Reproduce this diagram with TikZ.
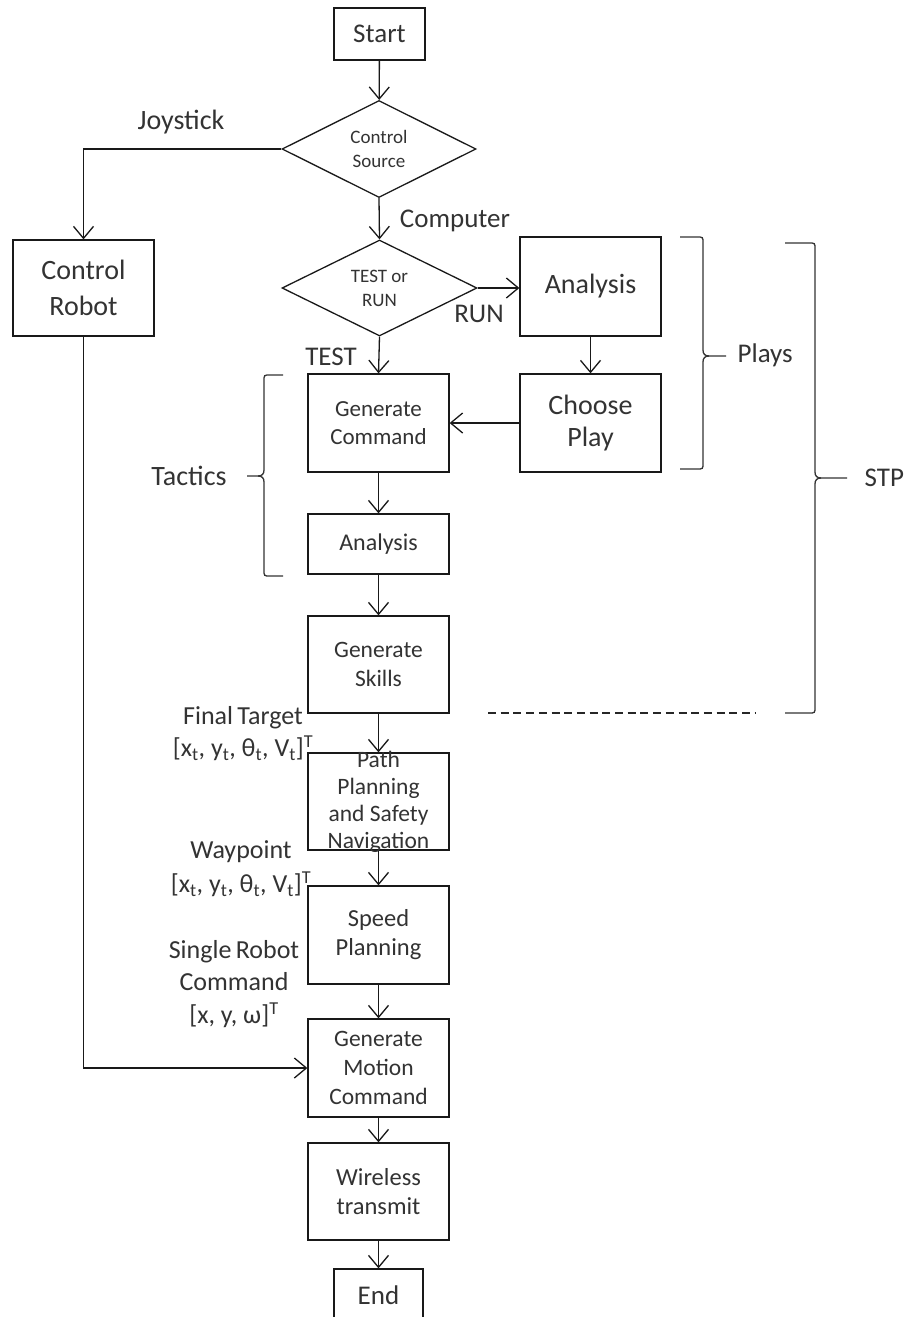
\documentclass[tikz,border=0pt]{standalone}
\usepackage{fontspec}
\setmainfont{Carlito}
\usetikzlibrary{arrows.meta,shapes.geometric}
\newcommand{\fs}[2]{\fontsize{#1}{#2}\selectfont}
\begin{document}
\begin{tikzpicture}[x=1pt,y=-1pt,
  line width=1.3pt,
  arr/.style={draw=black!90,-{Straight Barb[length=12pt,width=20pt,line width=1.3pt]}},
  box/.style={draw=black!90,rectangle,inner sep=0pt,minimum width=141pt,text=black!80,align=center},
  dia/.style={draw=black!90,diamond,inner sep=0pt,aspect=2,text=black!80,align=center},
  lbl/.style={text=black!80,align=center,inner sep=0pt},
  brace/.style={draw=black!80,line width=1.3pt}]
\clip (0,0) rectangle (911,1317);
\fill[white] (0,0) rectangle (911,1317);

% nodes
\node[box,minimum width=91pt,minimum height=52pt,font=\fs{27}{32}] (start) at (379.5,34) {Start};
\node[dia,minimum width=194pt,minimum height=97pt,font=\fs{19}{24}] (cs) at (379,149) {Control\\Source};
\node[box,minimum height=96pt,font=\fs{28}{36}] (cr) at (83.5,288) {Control\\Robot};
\node[dia,minimum width=195pt,minimum height=96pt,font=\fs{19}{24}] (tr) at (379.5,288) {TEST or\\RUN};
\node[box,minimum height=99pt,font=\fs{28}{32}] (an1) at (590.5,286.5) {Analysis};
\node[box,minimum height=98pt,font=\fs{28}{32}] (cp) at (590.5,423) {Choose\\Play};
\node[box,minimum height=98pt,font=\fs{23}{28}] (gc) at (378.5,423) {Generate\\Command};
\node[box,minimum height=60pt,font=\fs{24}{28}] (an2) at (378.5,544) {Analysis};
\node[box,minimum height=97pt,font=\fs{23.5}{29}] (gs) at (378.5,664.5) {Generate\\Skills};
\node[box,minimum height=97pt] (pp) at (378.5,801.5) {};
\node[lbl,font=\fs{23.5}{27}] (pptxt) at (378.5,802) {Path\\Planning\\and Safety\\Navigation};
\node[box,minimum height=98pt,font=\fs{24.5}{29}] (sp) at (378.5,935) {Speed\\Planning};
\node[box,minimum height=98pt,font=\fs{23.5}{29}] (gm) at (378.5,1068) {Generate\\Motion\\Command};
\node[box,minimum height=97pt,font=\fs{24.5}{29}] (wt) at (378.5,1191.5) {Wireless\\transmit};
\node[box,minimum width=89pt,minimum height=52pt,font=\fs{27}{32}] (end) at (378.5,1295) {End};

% connectors
\draw[arr] (start) -- (cs);
\draw[arr] (cs.west) -| (cr.north);
\draw[arr] (cs.south) -- (tr.north);
\draw[arr] (tr.east) -- (tr.east -| an1.west);
\draw[arr] (tr.south) -- (gc.north);
\draw[arr] (an1) -- (cp);
\draw[arr] (cp.west) -- (gc.east);
\draw[arr] (gc) -- (an2);
\draw[arr] (an2) -- (gs);
\draw[arr] (gs) -- (pp);
\draw[arr] (pp) -- (sp);
\draw[arr] (sp) -- (gm);
\draw[arr] (gm) -- (wt);
\draw[arr] (wt) -- (end);
\draw[arr] (cr.south) |- (gm.west);

% labels
\node[lbl,font=\fs{28}{32}] (ljoy) at (181,122) {Joystick};
\node[lbl,font=\fs{27}{32}] (lcomp) at (455,221) {Computer};
\node[lbl,font=\fs{27}{32}] (lrun) at (479,314) {RUN};
\node[lbl,font=\fs{27}{32}] (ltest) at (331,357) {TEST};
\node[lbl,font=\fs{28}{32}] (ltac) at (189,476) {Tactics};
\node[lbl,font=\fs{27}{32},anchor=west] (lplays) at (737,355) {Plays};
\node[lbl,font=\fs{27}{32},anchor=west] (lstp) at (864,478) {STP};
\node[lbl,font=\fs{26}{32}] (lft) at (243,734) {Final\,Target\\{}[x\textsubscript{t}, y\textsubscript{t}, θ\textsubscript{t}, V\textsubscript{t}]\textsuperscript{T}};
\node[lbl,font=\fs{26}{34}] (lwp) at (241,869) {Waypoint\\{}[x\textsubscript{t}, y\textsubscript{t}, θ\textsubscript{t}, V\textsubscript{t}]\textsuperscript{T}};
\node[lbl,font=\fs{26}{32.5}] (lsr) at (234,984) {Single\,Robot\\Command\\{}[x, y, ω]\textsuperscript{T}};

% braces
\draw[brace] (283,375) -- (270,375) .. controls (264,375) .. (264,381) -- (264,470)
  .. controls (264,474) and (262,476) .. (258,476) -- (247,476);
\draw[brace] (258,476) .. controls (262,476) and (264,478) .. (264,482) -- (264,570)
  .. controls (264,576) .. (270,576) -- (283,576);
\draw[brace] (680,237) -- (697,237) .. controls (703,237) .. (703,243) -- (703,350)
  .. controls (703,354) and (705,356) .. (709,356) -- (726,356);
\draw[brace] (709,356) .. controls (705,356) and (703,358) .. (703,362) -- (703,463)
  .. controls (703,469) .. (697,469) -- (680,469);
\draw[brace] (785,243) -- (809,243) .. controls (815,243) .. (815,249) -- (815,472)
  .. controls (815,476) and (817,478) .. (821,478) -- (847,478);
\draw[brace] (821,478) .. controls (817,478) and (815,480) .. (815,484) -- (815,707)
  .. controls (815,713) .. (809,713) -- (785,713);

% dashed line
\draw[draw=black!85,line width=1.2pt,dash pattern=on 8pt off 4.7pt] (488,713) -- (755,713);
\end{tikzpicture}
\end{document}
